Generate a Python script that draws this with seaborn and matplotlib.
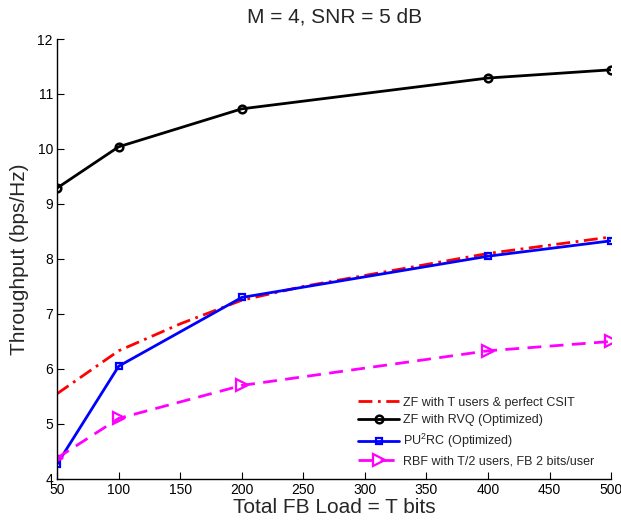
import seaborn as sns
import matplotlib.pyplot as plt
import pandas as pd

# values
fb_load = [50, 100, 200, 400, 500]
fb_load_fine = [50, 100, 150, 200, 250, 300, 350, 400, 450, 500]

zf_perfect = [5.55, 6.33, 6.82, 7.25, 7.5, 7.7, 7.9, 8.1, 8.25, 8.4]
zf_rvq = [9.29, 10.04, 10.73, 11.29, 11.44]
pu2rc = [4.27, 6.05, 7.3, 8.05, 8.33]
rbf = [4.38, 5.1, 5.7, 6.33, 6.5]

labels = ["ZF with T users & perfect CSIT", "ZF with RVQ (Optimized)",
          r"PU$^2$RC (Optimized)", "RBF with T/2 users, FB 2 bits/user"]

sns.set_style("white")
plt.rcParams['font.family'] = ['Liberation Sans', 'DejaVu Sans']
plt.rcParams['mathtext.fontset'] = 'custom'
plt.rcParams['mathtext.rm'] = 'Liberation Sans'

fig = plt.figure(figsize=(6.21, 5.2), dpi=100)
ax = fig.add_axes([0.092, 0.079, 0.892, 0.846])

df_red = pd.DataFrame({'x': fb_load_fine, 'y': zf_perfect})
sns.lineplot(data=df_red, x='x', y='y', ax=ax, color='red', lw=2,
             linestyle=(0, (5, 2, 1, 2)), label=labels[0])
df_blk = pd.DataFrame({'x': fb_load, 'y': zf_rvq})
sns.lineplot(data=df_blk, x='x', y='y', ax=ax, color='black', lw=2,
             marker='o', markersize=5.5, markerfacecolor='none',
             markeredgecolor='black', markeredgewidth=1.8, label=labels[1])
df_blu = pd.DataFrame({'x': fb_load, 'y': pu2rc})
sns.lineplot(data=df_blu, x='x', y='y', ax=ax, color='blue', lw=2,
             marker='s', markersize=5, markerfacecolor='none',
             markeredgecolor='blue', markeredgewidth=1.6, label=labels[2])
df_mag = pd.DataFrame({'x': fb_load, 'y': rbf})
sns.lineplot(data=df_mag, x='x', y='y', ax=ax, color='magenta', lw=2,
             linestyle=(0, (5, 3)), marker='>', markersize=8,
             markerfacecolor='none', markeredgecolor='magenta',
             markeredgewidth=1.6, label=labels[3])

ax.set_xlim(50, 500)
ax.set_ylim(4, 12)
ax.set_xticks(range(50, 501, 50))
ax.set_yticks(range(4, 13))
ax.tick_params(direction='in', length=5, labelsize=10, colors='black',
               bottom=True, left=True, pad=3)
for s in ['top', 'right']:
    ax.spines[s].set_visible(False)
for s in ['left', 'bottom']:
    ax.spines[s].set_color('black')
    ax.spines[s].set_linewidth(1)

ax.set_xlabel("Total FB Load = T bits", fontsize=15, labelpad=1)
ax.set_ylabel("Throughput (bps/Hz)", fontsize=15, labelpad=6)
ax.set_title("M = 4, SNR = 5 dB", fontsize=15, pad=12)

leg = ax.legend(loc='lower right', frameon=False, fontsize=9,
                handlelength=3.3, handletextpad=0.3, labelspacing=0.45,
                bbox_to_anchor=(0.99, 0.0))

fig.savefig("out.png", dpi=100)
